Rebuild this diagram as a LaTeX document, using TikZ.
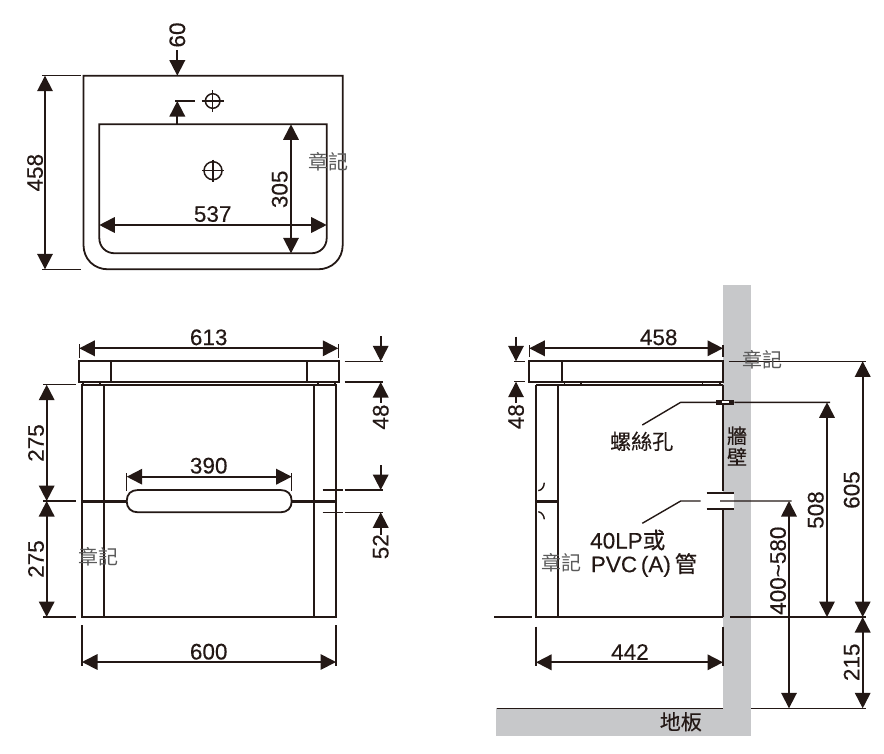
\documentclass[tikz,border=0pt]{standalone}
\usepackage{fontspec}
\usetikzlibrary{arrows.meta}
\setmainfont[FakeBold=0.25]{Liberation Sans}
\newfontfamily\cjkfont[FakeBold=0.35]{Noto Sans CJK TC}
\newfontfamily\stampfont{Noto Sans CJK TC}
\definecolor{ink}{HTML}{231815}
\definecolor{wallgray}{HTML}{C7C8CA}
\definecolor{stampgray}{HTML}{5A5A5A}
\tikzset{
  ln/.style={draw=ink,line width=1.8pt,line cap=butt},
  thin ln/.style={draw=ink,line width=1.4pt},
  thick ln/.style={draw=ink,line width=3pt},
  dimboth/.style={ln,{Triangle[length=15.5pt,width=15.5pt]}-{Triangle[length=15.5pt,width=15.5pt]}},
  dimend/.style={ln,-{Triangle[length=15.5pt,width=15.5pt]}},
  numlabel/.style={text=ink,font=\fontsize{22.5}{23}\selectfont,inner sep=0pt},
  vertlabel/.style={numlabel,rotate=90},
  cjklabel/.style={text=ink,font=\fontsize{21}{22}\cjkfont,inner sep=0pt},
  stamp/.style={text=stampgray,font=\fontsize{20}{20}\stampfont,inner sep=0pt},
  target/.style={draw=ink,line width=1.5pt,circle,inner sep=0pt,minimum size=#1}
}
\begin{document}
\begin{tikzpicture}[x=1pt,y=-1pt]
\useasboundingbox (0,0) rectangle (884,753);
% wall and floor
\fill[wallgray] (723,285) rectangle (751,736);
\fill[wallgray] (496,708) rectangle (751,736);
% ---- top view
\draw[ln] (83.5,75.7) -- (342.7,75.7) -- (342.7,245) .. controls (342.7,259) and (332,269.3) .. (318,269.3) -- (108,269.3) .. controls (94,269.3) and (83.5,259) .. (83.5,245) -- cycle;
\draw[ln] (99.3,124.3) -- (326.7,124.3) -- (326.7,238) .. controls (326.7,247) and (320,253.3) .. (311,253.3) -- (115,253.3) .. controls (106,253.3) and (99.3,247) .. (99.3,238) -- cycle;
\draw[thin ln] (42,75.7) -- (80.7,75.7);
\draw[thin ln] (42,269.3) -- (80.7,269.3);
\draw[dimboth] (45,75.7) -- (45,269.3);
\node[vertlabel] (t458) at (35,172.7) {458};
\draw[dimend] (177.3,50) -- (177.3,75.7);
\node[vertlabel] (t60) at (177.3,35) {60};
\draw[thin ln] (175,101) -- (195,101);
\draw[dimend] (177.3,123.5) -- (177.3,101);
\node[target=14.6pt] (hole1) at (212.7,101) {};
\draw[thin ln] (201.7,101) -- (223.7,101) (212.7,90) -- (212.7,112);
\node[target=18pt] (hole2) at (213,170.7) {};
\draw[thin ln] (202,170.7) -- (224,170.7) (213,159.7) -- (213,181.7);
\draw[dimboth] (291,124.3) -- (291,253.3);
\node[vertlabel] (t305) at (279.7,189.3) {305};
\draw[dimboth] (99.3,225) -- (326.7,225);
\node[numlabel] (t537) at (212.7,214) {537};
\node[stamp] (s1) at (328,161.5) {章記};
% ---- front view
\draw[thin ln] (79.3,344) -- (79.3,358) (338.3,344) -- (338.3,358);
\draw[dimboth] (79.3,348.3) -- (338.3,348.3);
\node[numlabel] (t613) at (208.7,337.3) {613};
\draw[ln] (79.3,361.3) rectangle (338.7,382);
\draw[ln] (111.3,361.3) -- (111.3,382) (306.7,361.3) -- (306.7,382);
\draw[thin ln] (83,382) -- (83,385) (100,382) -- (100,385) (318,382) -- (318,385) (335,382) -- (335,385);
\draw[ln] (82,385) rectangle (336,617);
\draw[ln] (104,385) -- (104,617) (314,385) -- (314,617);
\draw[thick ln] (82,501) -- (126.7,501) (291.7,501) -- (336,501);
\draw[ln,fill=white] (126.7,501.1) .. controls (126.7,494) and (131,490) .. (138,490) -- (280.5,490) .. controls (287.5,490) and (291.7,494) .. (291.7,501.1) .. controls (291.7,508) and (287.5,512.3) .. (280.5,512.3) -- (138,512.3) .. controls (131,512.3) and (126.7,508) .. (126.7,501.1) -- cycle;
\draw[thin ln] (126.7,473) -- (126.7,490.7) (291.7,473) -- (291.7,490.7);
\draw[dimboth] (126.7,476.7) -- (291.7,476.7);
\node[numlabel] (t390) at (208.7,465.7) {390};
\draw[thin ln] (43,384.7) -- (75.7,384.7) (43,501) -- (75.7,501) (43,617) -- (75.7,617);
\draw[dimboth] (46.7,384.7) -- (46.7,501);
\draw[dimboth] (46.7,501) -- (46.7,617);
\node[vertlabel] (t275a) at (36,443) {275};
\node[vertlabel] (t275b) at (36,559) {275};
\draw[thin ln] (82,625.3) -- (82,666) (336,625.3) -- (336,666);
\draw[dimboth] (82,662) -- (336,662);
\node[numlabel] (t600) at (208.7,651.7) {600};
\draw[thin ln] (344.7,361.3) -- (383.3,361.3) (344.7,382) -- (383.3,382);
\draw[dimend] (380.7,336) -- (380.7,361.3);
\draw[dimend] (380.7,403) -- (380.7,382);
\node[vertlabel] (t48a) at (380.7,417) {48};
\draw[thin ln] (322.7,490) -- (342.7,490) (344.7,490) -- (383.3,490);
\draw[thin ln] (322.7,512.3) -- (342.7,512.3) (344.7,512.3) -- (383.3,512.3);
\draw[dimend] (380.7,465) -- (380.7,490);
\draw[dimend] (380.7,535) -- (380.7,512.3);
\node[vertlabel] (t52) at (380.7,546.7) {52};
\node[stamp] (s2) at (98,557) {章記};
% ---- side view
\draw[thin ln] (529.3,345) -- (529.3,357) (723,345) -- (723,357);
\draw[dimboth] (529.3,348.3) -- (723,348.3);
\node[numlabel] (t458b) at (658.7,337.3) {458};
\draw[ln] (529.3,361.3) rectangle (723,381.7);
\draw[ln] (561.7,361.3) -- (561.7,381.7);
\draw[thin ln] (564.7,381.7) -- (564.7,385) (581,381.7) -- (581,385) (702.7,381.7) -- (702.7,385) (720,381.7) -- (720,385);
\draw[ln] (536,385) -- (723,385);
\draw[ln] (536,385) -- (536,617) -- (723,617);
\draw[ln] (558.3,385) -- (558.3,617);
\draw[ln] (723,385) -- (723,491) (723,510) -- (723,617);
\draw[thick ln] (536,501) -- (558.3,501);
\draw[thin ln] (544.3,482.7) .. controls (544,487) and (542,490) .. (538.3,490.7);
\draw[thin ln] (538.3,511.7) .. controls (542,512.5) and (544,515.5) .. (544.3,519.3);
% ground line, floor line
\draw[thin ln] (494,617) -- (532.3,617) (730,617) -- (865.7,617);
\draw[thin ln] (496.7,708.3) -- (723,708.3) (751,708.3) -- (865.7,708.3);
% screw hole
\fill[ink] (716,399.5) rectangle (734.3,405);
\fill[white] (721.7,401.3) rectangle (729.3,403.4);
\draw[thin ln] (642.3,425) -- (680.7,402.3) -- (716,402.3) (734.3,402.3) -- (830,402.3);
\node[cjklabel] (screw) at (641.7,441.3) {螺絲孔};
\node[cjklabel,font=\fontsize{20}{21}\cjkfont] (wall1) at (737,435.7) {牆};
\node[cjklabel,font=\fontsize{20}{21}\cjkfont] (wall2) at (737,456.7) {壁};
% drain pipe
\fill[white] (723,492.7) rectangle (734,509.3);
\draw[ln] (706.7,492.7) -- (734,492.7) (706.7,509.3) -- (734,509.3);
\draw[thin ln] (642.3,523.3) -- (680.7,501) -- (700.7,501) (720,501) -- (791.7,501);
\node[numlabel,anchor=west] (pipe1) at (590,540) {40LP{\cjkfont 或}};
\node[numlabel,anchor=west] (pipe2) at (590.7,565) {PVC\,(A)\,{\cjkfont 管}};
\node[stamp] (s3) at (561.2,562.7) {章記};
% right-hand dims
\draw[thin ln] (729.3,361.3) -- (865.7,361.3);
\node[stamp] (s4) at (762,360) {章記};
\draw[dimboth] (827,402.3) -- (827,617);
\node[vertlabel] (t508) at (815.7,510) {508};
\draw[dimboth] (862.7,361.3) -- (862.7,617);
\node[vertlabel] (t605) at (851.7,490) {605};
\draw[dimboth] (862.7,617) -- (862.7,708.3);
\node[vertlabel] (t215) at (851.7,662.3) {215};
\draw[dimboth] (789,501) -- (789,708.3);
\node[vertlabel] (t400) at (778,570.7) {400\textasciitilde 580};
\draw[thin ln] (536,626.7) -- (536,665.5) (723,626.7) -- (723,665.5);
\draw[dimboth] (536,662.3) -- (723,662.3);
\node[numlabel] (t442) at (630,652) {442};
\draw[thin ln] (514,361.3) -- (525.3,361.3) (514,381.7) -- (525.3,381.7);
\draw[dimend] (516,336.7) -- (516,361.3);
\draw[dimend] (516,403) -- (516,381.7);
\node[vertlabel] (t48b) at (516,416.7) {48};
\node[cjklabel] (floor) at (680.8,721.7) {地板};
\end{tikzpicture}
\end{document}
